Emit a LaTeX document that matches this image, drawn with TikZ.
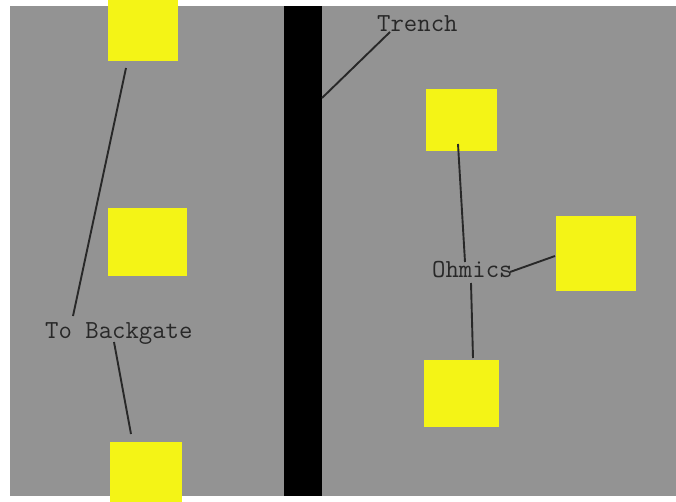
\documentclass[tikz,border=0pt]{standalone}
\definecolor{field}{RGB}{147,147,147}
\definecolor{pad}{RGB}{244,244,22}
\definecolor{ink}{RGB}{40,40,40}
\tikzset{
  padbox/.style={fill=pad, draw=none},
  lbl/.style={font=\ttfamily\fontsize{26}{29}\selectfont, text=ink, inner sep=0pt, anchor=base west},
  lead/.style={draw=ink, line width=1.9pt}
}
\begin{document}
\begin{tikzpicture}[x=1pt,y=-1pt]
\useasboundingbox (0,0) rectangle (676,502);
\begin{scope}
\clip (0,0) rectangle (676,502);
% substrate
\fill[field] (10,6) rectangle (676,496);
% trench
\fill[black] (284,6) rectangle (322,496);
% contact pads
\path[padbox] (108,0) rectangle (178,61);
\path[padbox] (108,208) rectangle (187,276);
\path[padbox] (110,442) rectangle (182,502);
\path[padbox] (426,89) rectangle (497,151);
\path[padbox] (556,216) rectangle (636,291);
\path[padbox] (424,360) rectangle (499,427);
\end{scope}
% labels
\node[lbl] (trench) at (377,32) {Trench};
\node[lbl] (back) at (45,338) {To Backgate};
\node[lbl] (ohm) at (432,277) {Ohmics};
% leader end points
\coordinate (t1) at (322,98);
\coordinate (t2) at (390,32);
\coordinate (b1) at (126,68);
\coordinate (b2) at (73,316);
\coordinate (b3) at (114,342);
\coordinate (b4) at (131,434);
\coordinate (o1) at (458,144);
\coordinate (o2) at (465,262);
\coordinate (o3) at (510,272);
\coordinate (o4) at (555,256);
\coordinate (o5) at (471,283);
\coordinate (o6) at (473,358);
% leaders
\draw[lead] (t1) -- (t2);
\draw[lead] (b1) -- (b2);
\draw[lead] (b3) -- (b4);
\draw[lead] (o1) -- (o2);
\draw[lead] (o3) -- (o4);
\draw[lead] (o5) -- (o6);
\end{tikzpicture}
\end{document}
